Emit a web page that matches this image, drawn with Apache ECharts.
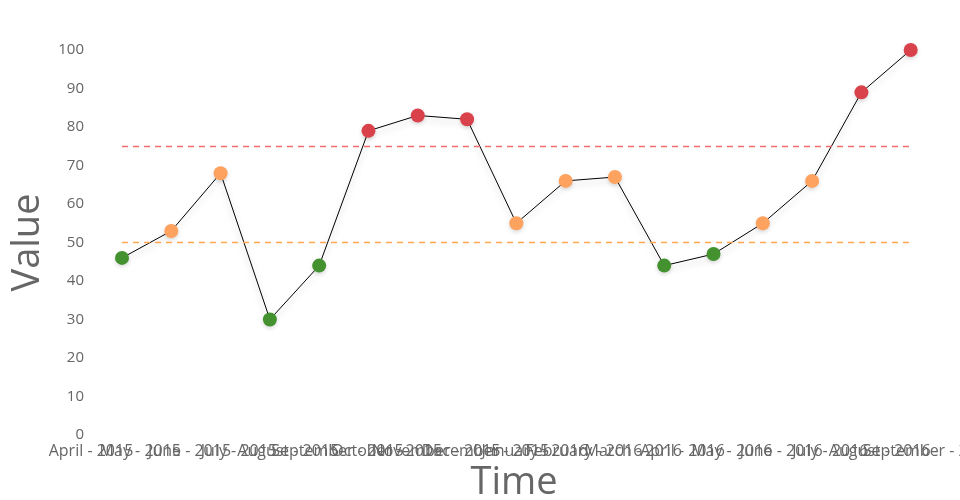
<!DOCTYPE html>
<html><head><meta charset="utf-8">
<script src="https://cdn.jsdelivr.net/npm/echarts@6/dist/echarts.min.js"></script>
<style>html,body{margin:0;padding:0;background:#fff}#c{width:960px;height:500px}</style>
</head><body><div id="c"></div>
<script>
const categories = ["April - 2015","May - 2015","June - 2015","July - 2015","August - 2015","September - 2015","October - 2015","November - 2015","December - 2015","January - 2016","February - 2016","March - 2016","April - 2016","May - 2016","June - 2016","July - 2016","August - 2016","September - 2016"];
const values = [46,53,68,30,44,79,83,82,55,66,67,44,47,55,66,89,100];
const thresholds = [50, 75];
const yTicks = [0,10,20,30,40,50,60,70,80,90,100];

const GREEN = '#43922f', ORANGE = '#fea25f', RED = '#d9424a';
function colorFor(v){ return v < thresholds[0] ? GREEN : (v < thresholds[1] ? ORANGE : RED); }

const chart = echarts.init(document.getElementById('c'));
const font = '"Open Sans", sans-serif';
chart.setOption({
  animation: false,
  grid: {left: 122, right: 0, top: 50, bottom: 65, containLabel: false, outerBoundsMode: 'none'},
  xAxis: {
    type: 'category', data: categories, boundaryGap: false,
    axisLine: {show: false}, axisTick: {show: false}, splitLine: {show: false},
    axisLabel: {interval: 0, hideOverlap: false, color: '#666', fontFamily: font, fontSize: 16, margin: 8, padding: [0, 62, 0, 0]},
    name: 'Time', nameLocation: 'middle', nameGap: 15,
    nameTextStyle: {fontFamily: font, fontSize: 38, color: '#666', padding: [0, 54, 0, 0]}
  },
  yAxis: {
    type: 'value', min: yTicks[0], max: yTicks[yTicks.length-1], interval: 10,
    axisLine: {show: false}, axisTick: {show: false}, splitLine: {show: false},
    axisLabel: {color: '#666', fontFamily: font, fontSize: 15, margin: 38},
    name: 'Value', nameLocation: 'middle', nameGap: 67,
    nameTextStyle: {fontFamily: font, fontSize: 38, color: '#666'}
  },
  series: [{
    type: 'line', data: values.map(v => ({value: v, itemStyle: {color: colorFor(v)}})),
    symbol: 'circle', symbolSize: 14,
    lineStyle: {color: '#000', width: 1, shadowColor: 'rgba(0,0,0,0.25)', shadowBlur: 6, shadowOffsetY: 4},
    itemStyle: {shadowColor: 'rgba(0,0,0,0.15)', shadowBlur: 4, shadowOffsetY: 2},
    markLine: {
      silent: true, symbol: 'none', label: {show: false},
      data: [
        [{coord: [0, thresholds[1]], lineStyle: {color: '#f26d6d', type: [6, 5], width: 1.3}}, {coord: [values.length-1, thresholds[1]]}],
        [{coord: [0, thresholds[0]], lineStyle: {color: '#ffa652', type: [6, 5], width: 1.3}}, {coord: [values.length-1, thresholds[0]]}]
      ]
    }
  }]
});
</script></body></html>
